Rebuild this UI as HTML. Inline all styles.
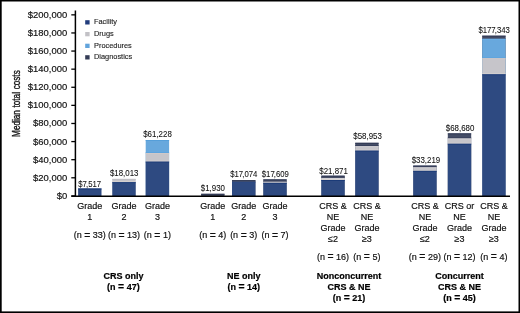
<!DOCTYPE html><html><head><meta charset="utf-8"><style>
html,body{margin:0;padding:0;background:#fff;}
body{width:520px;height:313px;overflow:hidden;position:relative;}
svg{position:absolute;left:0;top:0;will-change:transform;}
text{font-family:"Liberation Sans",sans-serif;} .t{stroke:#111;stroke-width:0.18px;}
</style></head><body>
<svg width="520" height="313" viewBox="0 0 520 313">
<rect x="0" y="0" width="520" height="313" fill="#fff"/>

<rect x="0" y="0" width="520" height="1.5" fill="#000"/>
<rect x="0" y="0" width="1.7" height="313" fill="#000"/>
<rect x="518.5" y="0" width="1.5" height="313" fill="#000"/>
<rect x="0" y="311.4" width="520" height="1.6" fill="#000"/>
<line x1="75.4" y1="10.5" x2="75.4" y2="196.79999999999998" stroke="#000" stroke-width="1.5"/>
<line x1="71.3" y1="14.85" x2="75.4" y2="14.85" stroke="#000" stroke-width="1.3"/>
<text transform="translate(67.2,17.85) scale(0.955,1)" font-size="9.9" text-anchor="end" class="t" fill="#111">$200,000</text>
<line x1="71.3" y1="32.95" x2="75.4" y2="32.95" stroke="#000" stroke-width="1.3"/>
<text transform="translate(67.2,35.95) scale(0.955,1)" font-size="9.9" text-anchor="end" class="t" fill="#111">$180,000</text>
<line x1="71.3" y1="51.06" x2="75.4" y2="51.06" stroke="#000" stroke-width="1.3"/>
<text transform="translate(67.2,54.06) scale(0.955,1)" font-size="9.9" text-anchor="end" class="t" fill="#111">$160,000</text>
<line x1="71.3" y1="69.16" x2="75.4" y2="69.16" stroke="#000" stroke-width="1.3"/>
<text transform="translate(67.2,72.16) scale(0.955,1)" font-size="9.9" text-anchor="end" class="t" fill="#111">$140,000</text>
<line x1="71.3" y1="87.27" x2="75.4" y2="87.27" stroke="#000" stroke-width="1.3"/>
<text transform="translate(67.2,90.27) scale(0.955,1)" font-size="9.9" text-anchor="end" class="t" fill="#111">$120,000</text>
<line x1="71.3" y1="105.37" x2="75.4" y2="105.37" stroke="#000" stroke-width="1.3"/>
<text transform="translate(67.2,108.37) scale(0.955,1)" font-size="9.9" text-anchor="end" class="t" fill="#111">$100,000</text>
<line x1="71.3" y1="123.48" x2="75.4" y2="123.48" stroke="#000" stroke-width="1.3"/>
<text transform="translate(67.2,126.48) scale(0.955,1)" font-size="9.9" text-anchor="end" class="t" fill="#111">$80,000</text>
<line x1="71.3" y1="141.58" x2="75.4" y2="141.58" stroke="#000" stroke-width="1.3"/>
<text transform="translate(67.2,144.58) scale(0.955,1)" font-size="9.9" text-anchor="end" class="t" fill="#111">$60,000</text>
<line x1="71.3" y1="159.69" x2="75.4" y2="159.69" stroke="#000" stroke-width="1.3"/>
<text transform="translate(67.2,162.69) scale(0.955,1)" font-size="9.9" text-anchor="end" class="t" fill="#111">$40,000</text>
<line x1="71.3" y1="177.79" x2="75.4" y2="177.79" stroke="#000" stroke-width="1.3"/>
<text transform="translate(67.2,180.79) scale(0.955,1)" font-size="9.9" text-anchor="end" class="t" fill="#111">$20,000</text>
<line x1="71.3" y1="195.90" x2="75.4" y2="195.90" stroke="#000" stroke-width="1.3"/>
<text transform="translate(67.2,198.90) scale(0.955,1)" font-size="9.9" text-anchor="end" class="t" fill="#111">$0</text>
<text transform="translate(19.9,103.6) rotate(-90) scale(0.8,1)" font-size="10.2" text-anchor="middle" word-spacing="0.6" fill="#111" stroke="#111" stroke-width="0.35">Median total costs</text>
<rect x="85.2" y="20.20" width="4.4" height="4.3" fill="#213c7c"/>
<text x="94" y="24.20" font-size="7.4" fill="#222" stroke="#222" stroke-width="0.12">Facility</text>
<rect x="85.2" y="32.00" width="4.4" height="4.3" fill="#c2c1c6"/>
<text x="94" y="36.00" font-size="7.4" fill="#222" stroke="#222" stroke-width="0.12">Drugs</text>
<rect x="85.2" y="43.70" width="4.4" height="4.3" fill="#62a4dc"/>
<text x="94" y="47.70" font-size="7.4" fill="#222" stroke="#222" stroke-width="0.12">Procedures</text>
<rect x="85.2" y="55.20" width="4.4" height="4.3" fill="#343c56"/>
<text x="94" y="59.20" font-size="7.4" fill="#222" stroke="#222" stroke-width="0.12">Diagnostics</text>
<rect x="78.1" y="188.5" width="23.4" height="7.70" fill="#2e4a81"/>
<rect x="78.1" y="188.5" width="23.4" height="0.90" fill="#133271"/>
<text transform="translate(89.60,186.50) scale(0.9,1)" font-size="8.6" text-anchor="middle" fill="#111" stroke="#111" stroke-width="0.08">$7<tspan dx="-0.9">,</tspan>517</text>
<rect x="112.3" y="178.9" width="23.4" height="17.30" fill="#c6c5ca"/>
<rect x="112.3" y="182.2" width="23.4" height="14.00" fill="#2e4a81"/>
<rect x="112.3" y="178.9" width="23.4" height="0.90" fill="#bfbdc3"/>
<rect x="112.3" y="181.30" width="23.4" height="0.90" fill="#dad5d3"/>
<rect x="112.3" y="182.2" width="23.4" height="0.90" fill="#1a3a78"/>
<text transform="translate(124.15,176.40) scale(0.92,1)" font-size="8.6" text-anchor="middle" fill="#111" stroke="#111" stroke-width="0.08">$18,013</text>
<rect x="145.7" y="140.0" width="23.4" height="56.20" fill="#68a8dd"/>
<rect x="145.7" y="153.0" width="23.4" height="43.20" fill="#c6c5ca"/>
<rect x="145.7" y="161.6" width="23.4" height="34.60" fill="#2e4a81"/>
<rect x="145.7" y="140.0" width="23.4" height="0.90" fill="#549dd9"/>
<rect x="145.7" y="152.10" width="23.4" height="0.90" fill="#5ca4df"/>
<rect x="145.7" y="153.0" width="23.4" height="0.90" fill="#d2c9c8"/>
<rect x="145.7" y="160.70" width="23.4" height="0.90" fill="#dad5d3"/>
<rect x="145.7" y="161.6" width="23.4" height="0.90" fill="#1a3a78"/>
<text transform="translate(157.50,137.40) scale(0.92,1)" font-size="8.6" text-anchor="middle" fill="#111" stroke="#111" stroke-width="0.08">$61,228</text>
<rect x="201.1" y="193.8" width="23.4" height="2.40" fill="#454d66"/>
<rect x="201.1" y="193.8" width="23.4" height="0.90" fill="#2d3652"/>
<text transform="translate(212.90,191.10) scale(0.92,1)" font-size="8.6" text-anchor="middle" fill="#111" stroke="#111" stroke-width="0.08">$1,930</text>
<rect x="232.0" y="180.1" width="23.4" height="16.10" fill="#454d66"/>
<rect x="232.0" y="181.7" width="23.4" height="14.50" fill="#2e4a81"/>
<rect x="232.0" y="180.1" width="23.4" height="0.80" fill="#2d3652"/>
<rect x="232.0" y="180.90" width="23.4" height="0.80" fill="#484d62"/>
<rect x="232.0" y="181.7" width="23.4" height="0.90" fill="#2b4a85"/>
<text transform="translate(243.80,176.80) scale(0.9,1)" font-size="8.6" text-anchor="middle" fill="#111" stroke="#111" stroke-width="0.08">$17<tspan dx="-0.9">,</tspan>074</text>
<rect x="263.3" y="179.4" width="23.4" height="16.80" fill="#454d66"/>
<rect x="263.3" y="181.7" width="23.4" height="14.50" fill="#c6c5ca"/>
<rect x="263.3" y="182.8" width="23.4" height="13.40" fill="#2e4a81"/>
<rect x="263.3" y="179.4" width="23.4" height="0.90" fill="#2d3652"/>
<rect x="263.3" y="180.80" width="23.4" height="0.90" fill="#343d59"/>
<rect x="263.3" y="181.7" width="23.4" height="0.55" fill="#d7d5d7"/>
<rect x="263.3" y="182.25" width="23.4" height="0.55" fill="#dad5d3"/>
<rect x="263.3" y="182.8" width="23.4" height="0.90" fill="#1a3a78"/>
<text transform="translate(275.35,176.90) scale(0.9,1)" font-size="8.6" text-anchor="middle" fill="#111" stroke="#111" stroke-width="0.08">$17<tspan dx="-0.9">,</tspan>609</text>
<rect x="321.3" y="175.7" width="23.4" height="20.50" fill="#454d66"/>
<rect x="321.3" y="177.9" width="23.4" height="18.30" fill="#c6c5ca"/>
<rect x="321.3" y="180.0" width="23.4" height="16.20" fill="#2e4a81"/>
<rect x="321.3" y="175.7" width="23.4" height="0.90" fill="#2d3652"/>
<rect x="321.3" y="177.00" width="23.4" height="0.90" fill="#343d59"/>
<rect x="321.3" y="177.9" width="23.4" height="0.90" fill="#d7d5d7"/>
<rect x="321.3" y="179.10" width="23.4" height="0.90" fill="#dad5d3"/>
<rect x="321.3" y="180.0" width="23.4" height="0.90" fill="#1a3a78"/>
<text transform="translate(333.60,173.60) scale(0.92,1)" font-size="8.6" text-anchor="middle" fill="#111" stroke="#111" stroke-width="0.08">$21,871</text>
<rect x="355.2" y="142.8" width="23.4" height="53.40" fill="#454d66"/>
<rect x="355.2" y="146.2" width="23.4" height="50.00" fill="#c6c5ca"/>
<rect x="355.2" y="150.6" width="23.4" height="45.60" fill="#2e4a81"/>
<rect x="355.2" y="142.8" width="23.4" height="0.90" fill="#2d3652"/>
<rect x="355.2" y="145.30" width="23.4" height="0.90" fill="#343d59"/>
<rect x="355.2" y="146.2" width="23.4" height="0.90" fill="#d7d5d7"/>
<rect x="355.2" y="149.70" width="23.4" height="0.90" fill="#dad5d3"/>
<rect x="355.2" y="150.6" width="23.4" height="0.90" fill="#1a3a78"/>
<text transform="translate(367.60,139.25) scale(0.92,1)" font-size="8.6" text-anchor="middle" fill="#111" stroke="#111" stroke-width="0.08">$58,953</text>
<rect x="413.2" y="165.6" width="23.4" height="30.60" fill="#454d66"/>
<rect x="413.2" y="167.3" width="23.4" height="28.90" fill="#c6c5ca"/>
<rect x="413.2" y="170.8" width="23.4" height="25.40" fill="#2e4a81"/>
<rect x="413.2" y="165.6" width="23.4" height="0.85" fill="#2d3652"/>
<rect x="413.2" y="166.45" width="23.4" height="0.85" fill="#343d59"/>
<rect x="413.2" y="167.3" width="23.4" height="0.90" fill="#d7d5d7"/>
<rect x="413.2" y="169.90" width="23.4" height="0.90" fill="#dad5d3"/>
<rect x="413.2" y="170.8" width="23.4" height="0.90" fill="#1a3a78"/>
<text transform="translate(425.90,162.75) scale(0.92,1)" font-size="8.6" text-anchor="middle" fill="#111" stroke="#111" stroke-width="0.08">$33,219</text>
<rect x="447.8" y="133.4" width="23.4" height="62.80" fill="#454d66"/>
<rect x="447.8" y="138.4" width="23.4" height="57.80" fill="#c6c5ca"/>
<rect x="447.8" y="143.7" width="23.4" height="52.50" fill="#2e4a81"/>
<rect x="447.8" y="133.4" width="23.4" height="0.90" fill="#2d3652"/>
<rect x="447.8" y="137.50" width="23.4" height="0.90" fill="#343d59"/>
<rect x="447.8" y="138.4" width="23.4" height="0.90" fill="#d7d5d7"/>
<rect x="447.8" y="142.80" width="23.4" height="0.90" fill="#dad5d3"/>
<rect x="447.8" y="143.7" width="23.4" height="0.90" fill="#1a3a78"/>
<text transform="translate(460.10,131.15) scale(0.92,1)" font-size="8.6" text-anchor="middle" fill="#111" stroke="#111" stroke-width="0.08">$68,680</text>
<rect x="482.2" y="35.7" width="23.4" height="160.50" fill="#454d66"/>
<rect x="482.2" y="38.7" width="23.4" height="157.50" fill="#68a8dd"/>
<rect x="482.2" y="58.2" width="23.4" height="138.00" fill="#c6c5ca"/>
<rect x="482.2" y="74.3" width="23.4" height="121.90" fill="#2e4a81"/>
<rect x="482.2" y="35.7" width="23.4" height="0.90" fill="#2d3652"/>
<rect x="482.2" y="37.80" width="23.4" height="0.90" fill="#404157"/>
<rect x="482.2" y="38.7" width="23.4" height="0.90" fill="#6db4ec"/>
<rect x="482.2" y="57.30" width="23.4" height="0.90" fill="#5ca4df"/>
<rect x="482.2" y="58.2" width="23.4" height="0.90" fill="#d2c9c8"/>
<rect x="482.2" y="73.40" width="23.4" height="0.90" fill="#dad5d3"/>
<rect x="482.2" y="74.3" width="23.4" height="0.90" fill="#1a3a78"/>
<text transform="translate(494.20,33.30) scale(0.9,1)" font-size="8.6" text-anchor="middle" fill="#111" stroke="#111" stroke-width="0.08">$177<tspan dx="-0.9">,</tspan>343</text>
<line x1="71.3" y1="196.2" x2="510" y2="196.2" stroke="#000" stroke-width="1.4"/>
<text x="89.80" y="208.70" font-size="9" text-anchor="middle" class="t" fill="#111">Grade</text>
<text x="89.80" y="219.60" font-size="9" text-anchor="middle" class="t" fill="#111">1</text>
<text x="89.80" y="238.40" font-size="9" text-anchor="middle" word-spacing="0" class="t" fill="#111">(n <tspan font-size="10.4" dy="0.5">=</tspan><tspan dy="-0.5"> </tspan>33)</text>
<text x="124.00" y="208.70" font-size="9" text-anchor="middle" class="t" fill="#111">Grade</text>
<text x="124.00" y="219.60" font-size="9" text-anchor="middle" class="t" fill="#111">2</text>
<text x="124.00" y="238.40" font-size="9" text-anchor="middle" word-spacing="0" class="t" fill="#111">(n <tspan font-size="10.4" dy="0.5">=</tspan><tspan dy="-0.5"> </tspan>13)</text>
<text x="157.40" y="208.70" font-size="9" text-anchor="middle" class="t" fill="#111">Grade</text>
<text x="157.40" y="219.60" font-size="9" text-anchor="middle" class="t" fill="#111">3</text>
<text x="157.40" y="238.40" font-size="9" text-anchor="middle" word-spacing="0" class="t" fill="#111">(n <tspan font-size="10.4" dy="0.5">=</tspan><tspan dy="-0.5"> </tspan>1)</text>
<text x="212.80" y="208.70" font-size="9" text-anchor="middle" class="t" fill="#111">Grade</text>
<text x="212.80" y="219.60" font-size="9" text-anchor="middle" class="t" fill="#111">1</text>
<text x="212.80" y="238.40" font-size="9" text-anchor="middle" word-spacing="0" class="t" fill="#111">(n <tspan font-size="10.4" dy="0.5">=</tspan><tspan dy="-0.5"> </tspan>4)</text>
<text x="243.70" y="208.70" font-size="9" text-anchor="middle" class="t" fill="#111">Grade</text>
<text x="243.70" y="219.60" font-size="9" text-anchor="middle" class="t" fill="#111">2</text>
<text x="243.70" y="238.40" font-size="9" text-anchor="middle" word-spacing="0" class="t" fill="#111">(n <tspan font-size="10.4" dy="0.5">=</tspan><tspan dy="-0.5"> </tspan>3)</text>
<text x="275.00" y="208.70" font-size="9" text-anchor="middle" class="t" fill="#111">Grade</text>
<text x="275.00" y="219.60" font-size="9" text-anchor="middle" class="t" fill="#111">3</text>
<text x="275.00" y="238.40" font-size="9" text-anchor="middle" word-spacing="0" class="t" fill="#111">(n <tspan font-size="10.4" dy="0.5">=</tspan><tspan dy="-0.5"> </tspan>7)</text>
<text x="333.00" y="208.70" font-size="9" text-anchor="middle" class="t" fill="#111">CRS &amp;</text>
<text x="333.00" y="219.60" font-size="9" text-anchor="middle" class="t" fill="#111">NE</text>
<text x="333.00" y="230.70" font-size="9" text-anchor="middle" class="t" fill="#111">Grade</text>
<text x="333.00" y="241.90" font-size="9" text-anchor="middle" class="t" fill="#111">≤2</text>
<text x="333.00" y="259.60" font-size="9" text-anchor="middle" word-spacing="0" class="t" fill="#111">(n <tspan font-size="10.4" dy="0.5">=</tspan><tspan dy="-0.5"> </tspan>16)</text>
<text x="366.90" y="208.70" font-size="9" text-anchor="middle" class="t" fill="#111">CRS &amp;</text>
<text x="366.90" y="219.60" font-size="9" text-anchor="middle" class="t" fill="#111">NE</text>
<text x="366.90" y="230.70" font-size="9" text-anchor="middle" class="t" fill="#111">Grade</text>
<text x="366.90" y="241.90" font-size="9" text-anchor="middle" class="t" fill="#111">≥3</text>
<text x="366.90" y="259.60" font-size="9" text-anchor="middle" word-spacing="0" class="t" fill="#111">(n <tspan font-size="10.4" dy="0.5">=</tspan><tspan dy="-0.5"> </tspan>5)</text>
<text x="424.90" y="208.70" font-size="9" text-anchor="middle" class="t" fill="#111">CRS &amp;</text>
<text x="424.90" y="219.60" font-size="9" text-anchor="middle" class="t" fill="#111">NE</text>
<text x="424.90" y="230.70" font-size="9" text-anchor="middle" class="t" fill="#111">Grade</text>
<text x="424.90" y="241.90" font-size="9" text-anchor="middle" class="t" fill="#111">≤2</text>
<text x="424.90" y="259.60" font-size="9" text-anchor="middle" word-spacing="0" class="t" fill="#111">(n <tspan font-size="10.4" dy="0.5">=</tspan><tspan dy="-0.5"> </tspan>29)</text>
<text x="459.50" y="208.70" font-size="9" text-anchor="middle" class="t" fill="#111">CRS or</text>
<text x="459.50" y="219.60" font-size="9" text-anchor="middle" class="t" fill="#111">NE</text>
<text x="459.50" y="230.70" font-size="9" text-anchor="middle" class="t" fill="#111">Grade</text>
<text x="459.50" y="241.90" font-size="9" text-anchor="middle" class="t" fill="#111">≥3</text>
<text x="459.50" y="259.60" font-size="9" text-anchor="middle" word-spacing="0" class="t" fill="#111">(n <tspan font-size="10.4" dy="0.5">=</tspan><tspan dy="-0.5"> </tspan>12)</text>
<text x="493.90" y="208.70" font-size="9" text-anchor="middle" class="t" fill="#111">CRS &amp;</text>
<text x="493.90" y="219.60" font-size="9" text-anchor="middle" class="t" fill="#111">NE</text>
<text x="493.90" y="230.70" font-size="9" text-anchor="middle" class="t" fill="#111">Grade</text>
<text x="493.90" y="241.90" font-size="9" text-anchor="middle" class="t" fill="#111">≥3</text>
<text x="493.90" y="259.60" font-size="9" text-anchor="middle" word-spacing="0" class="t" fill="#111">(n <tspan font-size="10.4" dy="0.5">=</tspan><tspan dy="-0.5"> </tspan>4)</text>
<text x="123.4" y="278.70" font-size="9" font-weight="bold" text-anchor="middle" fill="#000" stroke="#000" stroke-width="0.2">CRS only</text>
<text x="123.4" y="289.65" font-size="9" font-weight="bold" text-anchor="middle" fill="#000" stroke="#000" stroke-width="0.2">(n <tspan font-size="10.4" dy="0.5">=</tspan><tspan dy="-0.5"> </tspan>47)</text>
<text x="243.8" y="278.70" font-size="9" font-weight="bold" text-anchor="middle" fill="#000" stroke="#000" stroke-width="0.2">NE only</text>
<text x="243.8" y="289.65" font-size="9" font-weight="bold" text-anchor="middle" fill="#000" stroke="#000" stroke-width="0.2">(n <tspan font-size="10.4" dy="0.5">=</tspan><tspan dy="-0.5"> </tspan>14)</text>
<text x="349.0" y="278.70" font-size="9" font-weight="bold" text-anchor="middle" fill="#000" stroke="#000" stroke-width="0.2">Nonconcurrent</text>
<text x="349.0" y="289.65" font-size="9" font-weight="bold" text-anchor="middle" fill="#000" stroke="#000" stroke-width="0.2">CRS &amp; NE</text>
<text x="349.0" y="300.60" font-size="9" font-weight="bold" text-anchor="middle" fill="#000" stroke="#000" stroke-width="0.2">(n <tspan font-size="10.4" dy="0.5">=</tspan><tspan dy="-0.5"> </tspan>21)</text>
<text x="459.5" y="278.70" font-size="9" font-weight="bold" text-anchor="middle" fill="#000" stroke="#000" stroke-width="0.2">Concurrent</text>
<text x="459.5" y="289.65" font-size="9" font-weight="bold" text-anchor="middle" fill="#000" stroke="#000" stroke-width="0.2">CRS &amp; NE</text>
<text x="459.5" y="300.60" font-size="9" font-weight="bold" text-anchor="middle" fill="#000" stroke="#000" stroke-width="0.2">(n <tspan font-size="10.4" dy="0.5">=</tspan><tspan dy="-0.5"> </tspan>45)</text>
</svg></body></html>
